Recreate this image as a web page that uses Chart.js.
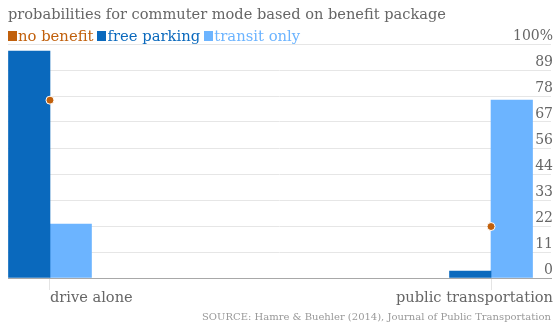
<!DOCTYPE html>
<html>
<head>
<meta charset="utf-8">
<script src="https://cdn.jsdelivr.net/npm/chart.js@4.4.1/dist/chart.umd.min.js"></script>
<style>
  html, body { margin: 0; padding: 0; background: #fff; }
  #wrap { position: relative; width: 556px; height: 324px; font-family: "DejaVu Serif", serif; }
  #chart { position: absolute; left: 0; top: 0; }
  .title { position: absolute; left: 8px; top: 5px; font-size: 14.6px; line-height: 18px; color: #666; white-space: nowrap; }
  .legend { position: absolute; left: 8px; top: 27px; font-size: 14.8px; line-height: 18px; white-space: nowrap; }
  .legend span { margin-right: 4px; }
  .legend i { display: inline-block; width: 9px; height: 10px; margin-right: 1px; }
  .source { position: absolute; right: 5px; top: 310px; font-size: 10px; line-height: 14px; color: #999; white-space: nowrap; }
</style>
</head>
<body>
<div id="wrap">
  <canvas id="chart" width="556" height="324"></canvas>
  <div class="title">probabilities for commuter mode based on benefit package</div>
  <div class="legend" id="legend"></div>
  <div class="source">SOURCE: Hamre &amp; Buehler (2014), Journal of Public Transportation</div>
</div>
<script>
const categories = ['drive alone', 'public transportation'];
const noBenefit = [76, 22];
const freeParking = [97, 3];
const transitOnly = [23, 76];
const tickLabels = ['0', '11', '22', '33', '44', '56', '67', '78', '89', '100%'];

const COLORS = { none: '#c1600c', parking: '#0a69bd', transit: '#6cb4ff' };

document.getElementById('legend').innerHTML = [
  ['no benefit', COLORS.none],
  ['free parking', COLORS.parking],
  ['transit only', COLORS.transit],
].map(([t, c]) => `<span style="color:${c}"><i style="background:${c}"></i>${t}</span>`).join('');

const pts = (vals) => vals.map((v, i) => ({ x: i, y: v }));

// category labels: first one starts at its tick, last one hugs the right edge
const catLabels = {
  id: 'catLabels',
  afterDraw(chart) {
    const { ctx, scales: { x }, chartArea } = chart;
    ctx.save();
    ctx.font = '14.6px "DejaVu Serif", serif';
    ctx.fillStyle = '#666';
    ctx.textBaseline = 'middle';
    categories.forEach((c, i) => {
      const last = i === categories.length - 1;
      ctx.textAlign = last ? 'right' : 'left';
      ctx.fillText(c, last ? chartArea.right + 2 : x.getPixelForValue(i), 298);
    });
    ctx.restore();
  },
};

new Chart(document.getElementById('chart'), {
  data: {
    datasets: [
      {
        type: 'line', label: 'no benefit', data: pts(noBenefit), showLine: false, order: 0,
        pointRadius: 4, pointHoverRadius: 4, pointBackgroundColor: COLORS.none,
        pointBorderColor: '#fff', pointBorderWidth: 1,
      },
      { type: 'bar', label: 'free parking', data: pts(freeParking), backgroundColor: COLORS.parking, order: 1 },
      { type: 'bar', label: 'transit only', data: pts(transitOnly), backgroundColor: COLORS.transit, order: 1 },
    ],
  },
  options: {
    responsive: false,
    animation: false,
    events: [],
    barThickness: 41.5,
    layout: { padding: { top: 44, left: 8, right: 0, bottom: 34 } },
    plugins: { legend: { display: false }, title: { display: false }, tooltip: { enabled: false } },
    scales: {
      x: {
        type: 'linear',
        offset: false,
        min: -0.0952,
        max: 1.136,
        afterBuildTicks: (s) => { s.ticks = categories.map((_, i) => ({ value: i })); },
        ticks: { display: false },
        grid: { offset: false, drawOnChartArea: false, drawTicks: true, tickLength: 12, tickColor: '#e4e4e4' },
        border: { display: true, color: '#a8a8a8', width: 1 },
      },
      y: {
        position: 'right',
        min: 0,
        max: 100,
        afterBuildTicks: (s) => { s.ticks = tickLabels.map((_, i) => ({ value: i * 100 / 9 })); },
        ticks: {
          mirror: true, padding: 2, labelOffset: -8,
          color: '#666', font: { family: '"DejaVu Serif", serif', size: 14 },
          callback: (v, i) => tickLabels[i],
        },
        grid: { color: '#e6e6e6', drawTicks: false },
        border: { display: false },
      },
    },
  },
  plugins: [catLabels],
});
</script>
</body>
</html>
